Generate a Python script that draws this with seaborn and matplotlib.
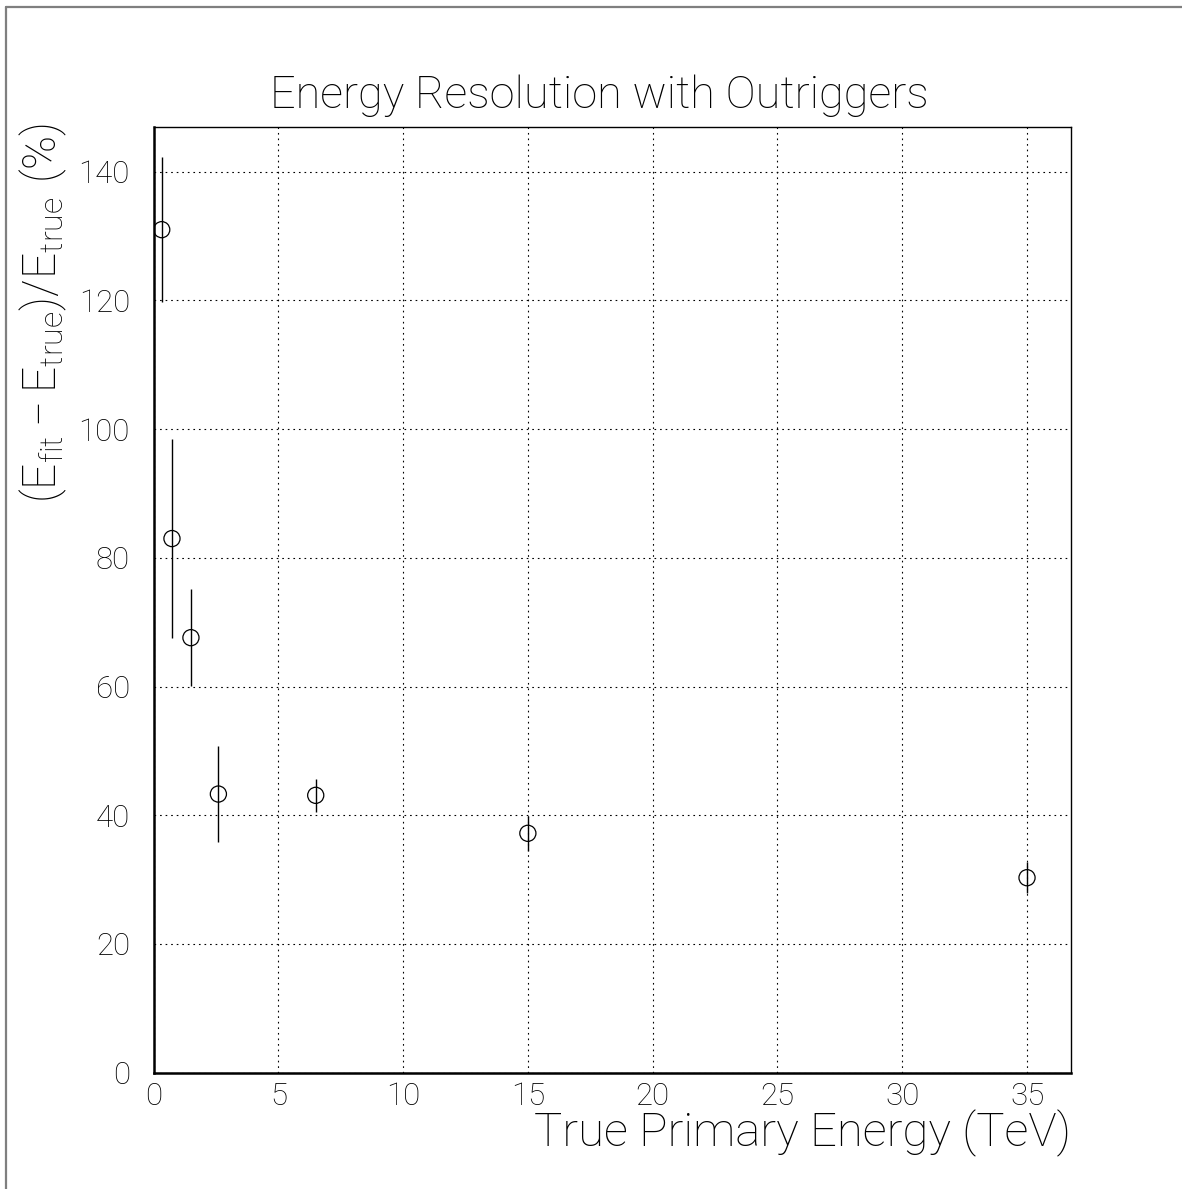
import matplotlib
matplotlib.use("Agg")
import matplotlib.pyplot as plt
from matplotlib.lines import Line2D
from matplotlib.ticker import MultipleLocator
import numpy as np
import pandas as pd
import seaborn as sns

# Resolution measurements per energy bin
energy_tev = [0.33, 0.74, 1.5, 2.6, 6.5, 15.0, 35.0]
resolution_pct = [131.0, 83.0, 67.6, 43.3, 43.1, 37.2, 30.3]
resolution_err = [11.3, 15.5, 7.5, 7.5, 2.6, 2.7, 2.4]

x_ticks = [0, 5, 10, 15, 20, 25, 30, 35]
y_ticks = [0, 20, 40, 60, 80, 100, 120, 140]

title_text = "Energy Resolution with Outriggers"
x_label = "True Primary Energy (TeV)"
y_label = r"$(\mathrm{E}_{\mathrm{fit}} - \mathrm{E}_{\mathrm{true}})/\mathrm{E}_{\mathrm{true}}\ (\%)$"

df = pd.DataFrame({"energy": energy_tev, "res": resolution_pct, "err": resolution_err})

sns.set_theme(style="white")
FONT = "Roboto"
plt.rcParams["font.family"] = [FONT, "DejaVu Sans"]
plt.rcParams["font.weight"] = "light"
plt.rcParams["axes.labelweight"] = "light"
plt.rcParams["mathtext.fontset"] = "custom"
plt.rcParams["mathtext.rm"] = f"{FONT}:light"
plt.rcParams["mathtext.it"] = f"{FONT}:italic:light"
plt.rcParams["mathtext.bf"] = f"{FONT}:bold"

W, H = 1182, 1189
fig = plt.figure(figsize=(W / 100, H / 100), dpi=100)
fig.patch.set_facecolor("white")

# axes frame in pixel terms
left, right, top, bottom = 153.5, 1070.7, 126.7, 1072.7
ax = fig.add_axes([left / W, 1 - bottom / H, (right - left) / W, (bottom - top) / H])
ax.set_facecolor("white")

ax.set_xlim(0, 36.75)
ax.set_ylim(0, 147.0)

# error bars first, open circles on top
ax.errorbar(df["energy"], df["res"], yerr=df["err"], fmt="none",
            ecolor="black", elinewidth=1.0, capsize=0, zorder=3)
sns.scatterplot(data=df, x="energy", y="res", ax=ax, marker="o", s=135,
                facecolors="none", edgecolor="black", linewidth=0.9,
                zorder=4, legend=False)

# grid + ticks
ax.set_xticks(x_ticks)
ax.set_yticks(y_ticks)
ax.xaxis.set_minor_locator(MultipleLocator(1))
ax.yaxis.set_minor_locator(MultipleLocator(5))
ax.grid(True, which="major", color="black", linewidth=0.8,
        linestyle=(0, (1.5, 3.5)))
ax.set_axisbelow(True)

TICK_FS = 22.5
ax.tick_params(axis="x", which="major", direction="in", length=14, width=0.8,
               color="black", labelsize=TICK_FS, pad=7, labelcolor="black")
ax.tick_params(axis="x", which="minor", direction="in", length=6, width=0.8,
               color="black")
ax.tick_params(axis="y", which="major", direction="in", length=12, width=0.8,
               color="black", labelsize=TICK_FS, pad=17, labelcolor="black")
ax.tick_params(axis="y", which="minor", direction="in", length=7, width=0.8,
               color="black")
ax.tick_params(top=False, right=False, which="both")

for side in ["left", "bottom"]:
    ax.spines[side].set_linewidth(1.8)
    ax.spines[side].set_color("black")
for side in ["top", "right"]:
    ax.spines[side].set_linewidth(1.0)
    ax.spines[side].set_color("black")

LABEL_FS = 32.5
ax.set_xlabel(x_label, fontsize=34, loc="right", color="black",
              fontweight="light")
ax.xaxis.set_label_coords(1.0, -0.039)
ax.set_ylabel(y_label, fontsize=LABEL_FS + 0.5, loc="top", color="black",
              fontweight="light")
ax.yaxis.set_label_coords(-0.092, 1.004)

fig.text(599 / W, 1 - 108 / H, title_text, ha="center", va="baseline",
         fontsize=LABEL_FS, color="black", fontweight="light")

# page frame on the left and top edges
fig.add_artist(Line2D([6 / W, 6 / W], [0, 1 - 7 / H], transform=fig.transFigure,
                      color="#7f7f7f", linewidth=1.6))
fig.add_artist(Line2D([6 / W, 1], [1 - 7 / H, 1 - 7 / H], transform=fig.transFigure,
                      color="#7f7f7f", linewidth=1.6))

fig.savefig("out.png", dpi=100, facecolor="white")
